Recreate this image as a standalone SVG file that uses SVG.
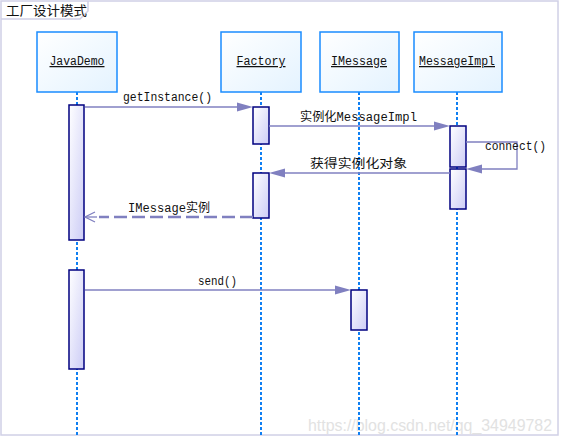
<svg xmlns="http://www.w3.org/2000/svg" width="561" height="444" viewBox="0 0 561 444">
<style>
.frame{fill:none;stroke:#d0d0e6;stroke-width:1.5}
.head{fill:url(#gHead);stroke:#1a8cff;stroke-width:1.5}
.hlabel{font-family:"Liberation Mono","Noto Sans CJK SC",monospace;font-size:12.5px;fill:#111;text-anchor:middle;text-decoration:underline}
.life{stroke:#0f7ff2;stroke-width:2;stroke-dasharray:3,2;fill:none}
.act{fill:url(#gAct);stroke:#000080;stroke-width:1.5}
.msg{stroke:#8080c0;stroke-width:1.3;fill:none}
.ret{stroke:#8080c0;stroke-width:2.4;fill:none;stroke-dasharray:13,5}
.ah{fill:#8080c0;stroke:none}
.lbl{font-family:"Liberation Mono","Noto Sans CJK SC",monospace;font-size:12.5px;fill:#111}
</style>
<defs>
<linearGradient id="gHead" x1="0" y1="0" x2="1" y2="1"><stop offset="0" stop-color="#ffffff"/><stop offset="1" stop-color="#e4f3ff"/></linearGradient>
<linearGradient id="gAct" x1="0" y1="0" x2="1" y2="1"><stop offset="0" stop-color="#ffffff"/><stop offset="1" stop-color="#ccccf6"/></linearGradient>
</defs>
<rect x="0" y="0" width="561" height="444" fill="#ffffff"/>
<rect class="frame" x="1" y="1" width="557" height="434"/>
<path class="frame" d="M1,19 H80 L88,11 V1"/>
<text x="6" y="15" font-family="'Noto Sans CJK SC',sans-serif" font-size="13" fill="#111" textLength="81" lengthAdjust="spacingAndGlyphs">工厂设计模式</text>
<text x="308" y="431" font-family="'Liberation Sans',Arial,sans-serif" font-size="16" fill="#e2e2e2" textLength="244" lengthAdjust="spacingAndGlyphs">https://blog.csdn.net/qq_34949782</text>

<g id="lifelines">
<line class="life" x1="77" y1="92" x2="77" y2="435"/>
<line class="life" x1="261" y1="92" x2="261" y2="435"/>
<line class="life" x1="359" y1="92" x2="359" y2="435"/>
<line class="life" x1="457" y1="92" x2="457" y2="435"/>
</g>

<g id="JavaDemo">
<rect class="head" x="37" y="32" width="80" height="60"/>
<text class="hlabel" x="77" y="65" textLength="55" lengthAdjust="spacingAndGlyphs">JavaDemo</text>
<rect class="act" x="69" y="105" width="15" height="135"/>
<rect class="act" x="69" y="270" width="15" height="99"/>
</g>
<g id="Factory">
<rect class="head" x="221" y="32" width="80" height="60"/>
<text class="hlabel" x="261" y="65" textLength="49" lengthAdjust="spacingAndGlyphs">Factory</text>
<rect class="act" x="253" y="107" width="16" height="37"/>
<rect class="act" x="253" y="173" width="16" height="45"/>
</g>
<g id="IMessage">
<rect class="head" x="320" y="32" width="79" height="60"/>
<text class="hlabel" x="359" y="65" textLength="56" lengthAdjust="spacingAndGlyphs">IMessage</text>
<rect class="act" x="351" y="290" width="16" height="40"/>
</g>
<g id="MessageImpl">
<rect class="head" x="414" y="32" width="88" height="60"/>
<text class="hlabel" x="457" y="65" textLength="76" lengthAdjust="spacingAndGlyphs">MessageImpl</text>
<rect class="act" x="450" y="126" width="16" height="41"/>
<rect class="act" x="450" y="169" width="16" height="40"/>
</g>

<g id="connectors">
<line class="msg" x1="85" y1="107" x2="240" y2="107"/>
<polygon class="ah" points="237,102.5 253,107 237,111.5"/>
<text class="lbl" x="123" y="101" textLength="89" lengthAdjust="spacingAndGlyphs">getInstance()</text>

<line class="msg" x1="269" y1="126" x2="437" y2="126"/>
<polygon class="ah" points="434,121.5 450,126 434,130.5"/>
<text class="lbl" x="300" y="121" textLength="117" lengthAdjust="spacingAndGlyphs">实例化MessageImpl</text>

<polyline class="msg" points="466,142 517,142 517,169 479,169"/>
<polygon class="ah" points="482,164.5 466,169 482,173.5"/>
<text class="lbl" x="485" y="150" textLength="61" lengthAdjust="spacingAndGlyphs">connect()</text>

<line class="msg" x1="450" y1="173" x2="282" y2="173"/>
<polygon class="ah" points="285,168.5 269,173 285,177.5"/>
<text class="lbl" x="310" y="168" textLength="97" lengthAdjust="spacingAndGlyphs">获得实例化对象</text>

<line class="ret" x1="253" y1="217" x2="99" y2="217"/>
<polyline class="msg" points="95,212 85,217 95,222"/>
<line class="msg" x1="86" y1="217" x2="97" y2="217"/>
<text class="lbl" x="128" y="212" textLength="82" lengthAdjust="spacingAndGlyphs">IMessage实例</text>

<line class="msg" x1="85" y1="290" x2="338" y2="290"/>
<polygon class="ah" points="335,285.5 351,290 335,294.5"/>
<text class="lbl" x="198" y="285" textLength="39" lengthAdjust="spacingAndGlyphs">send()</text>
</g>
</svg>
